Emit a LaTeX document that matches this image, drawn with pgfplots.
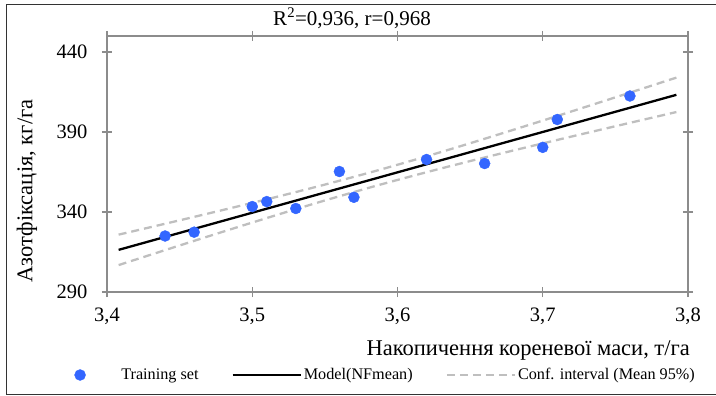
\documentclass[border=0pt]{standalone}
\usepackage{fontspec}
\setmainfont{Liberation Serif}
\usepackage{pgfplots}
\pgfplotsset{compat=1.18}
\definecolor{ptblue}{RGB}{51,102,255}
\definecolor{axgray}{RGB}{140,140,140}
\definecolor{cigray}{RGB}{191,191,191}
\pgfplotsset{
  scatterlegend/.style={legend image code/.code={\path (-34bp,0bp) (39bp,0bp); \draw[##1] plot coordinates {(0bp,0bp)};}},
  linelegend/.style={legend image code/.code={\draw[##1] (0bp,0bp) -- (68bp,0bp);}},
}
\begin{document}
\begin{tikzpicture}
\begin{axis}[
  at={(0,0)}, anchor=south west,
  width=581bp, height=256bp, scale only axis,
  xmin=3.4, xmax=3.8, ymin=290, ymax=450,
  xtick={3.4,3.5,3.6,3.7,3.8}, ytick={290,340,390,440},
  xticklabels={{3,4},{3,5},{3,6},{3,7},{3,8}},
  yticklabels={290,340,390,440},
  tick label style={font=\fontsize{20.5bp}{24bp}\selectfont, black},
  xticklabel style={yshift=-7bp},
  yticklabel style={xshift=-11bp},
  axis line style={axgray, line width=1.5bp},
  tick style={axgray, line width=1.3bp},
  tick align=center, major tick length=10bp,
  xlabel={Накопичення кореневої маси, т/га},
  ylabel={Азотфіксація, кг/га},
  label style={font=\fontsize{22.5bp}{26bp}\selectfont},
  xlabel style={at={(axis description cs:1,0)}, anchor=base east, yshift=-63bp, xshift=2bp, inner sep=0pt},
  ylabel style={at={(axis description cs:-0.1377,0.395)}, anchor=center, inner sep=0pt},
  title={R\textsuperscript{2}=0,936, r=0,968},
  title style={at={(axis description cs:0.4217,1)}, anchor=base, yshift=5bp, inner sep=0pt, font=\fontsize{21bp}{25bp}\selectfont},
  legend columns=3,
  legend style={at={(axis description cs:0.455,0)}, anchor=center, yshift=-83bp, draw=none, fill=none,
    font=\fontsize{16.2bp}{19bp}\selectfont,
    nodes={inner sep=2bp},
    /tikz/every even column/.append style={column sep=31bp}},
  clip=false,
]
\addplot[only marks, mark=*, mark size=5.5bp, ptblue, mark options={draw=ptblue, fill=ptblue}, scatterlegend] coordinates {
 (3.44,325.0) (3.46,327.4) (3.50,343.4) (3.51,346.5) (3.53,342.2) (3.56,365.3)
 (3.57,349.2) (3.62,372.8) (3.66,370.3) (3.70,380.4) (3.71,397.8) (3.76,412.5)
};
\addlegendentry{Training set}
\addplot[black, line width=2.3bp, mark=none, linelegend] coordinates {
 (3.408,316.34) (3.792,413.23)
};
\addlegendentry{Model(NFmean)}
\addplot[cigray, line width=2.3bp, dash pattern=on 8bp off 5bp, mark=none, smooth, linelegend] coordinates {
 (3.408,325.85) (3.43,330.52) (3.45,334.80) (3.475,340.21) (3.5,345.69) (3.525,351.32) (3.55,357.13)
 (3.585,365.68) (3.62,374.79) (3.65,382.98) (3.675,390.01) (3.7,397.14) (3.725,404.37) (3.75,411.66)
 (3.77,417.52) (3.792,423.99)
};
\addlegendentry{Conf. interval (Mean 95\%)}
\addplot[cigray, line width=2.3bp, dash pattern=on 8bp off 5bp, mark=none, smooth, forget plot] coordinates {
 (3.408,306.83) (3.43,313.26) (3.45,319.08) (3.475,326.29) (3.5,333.41) (3.525,340.40) (3.55,347.21)
 (3.585,356.32) (3.62,364.87) (3.65,371.82) (3.675,377.41) (3.7,382.88) (3.725,388.27) (3.75,393.60)
 (3.77,397.84) (3.792,402.47)
};
\end{axis}
\draw[black!80, line width=1bp] (609bp,287bp) -- (-100.5bp,287bp) -- (-100.5bp,-102.5bp) -- (609bp,-102.5bp);
\pgfresetboundingbox
\useasboundingbox (-107bp,-104bp) rectangle (609bp,292bp);
\end{tikzpicture}
\end{document}
